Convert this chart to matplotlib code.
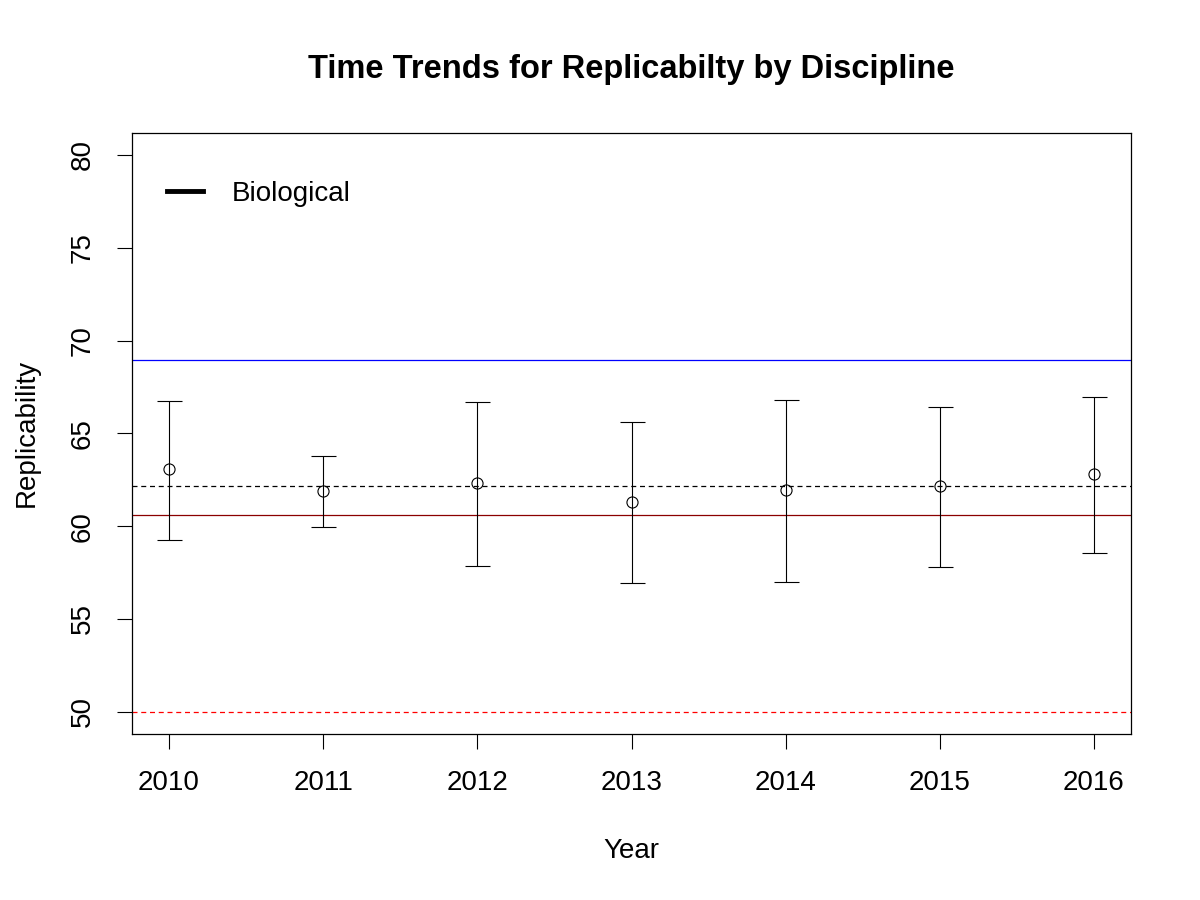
import matplotlib
matplotlib.use("Agg")
import matplotlib.pyplot as plt
import numpy as np

plt.rcParams['font.family'] = ['Liberation Sans', 'DejaVu Sans']

# Replicability estimates per year (Biological) with interval bounds
years = [2010, 2011, 2012, 2013, 2014, 2015, 2016]
estimate = [63.07, 61.92, 62.31, 61.29, 61.94, 62.15, 62.80]
upper = [66.75, 63.79, 66.70, 65.62, 66.80, 66.43, 66.96]
lower = [59.27, 59.98, 57.87, 56.92, 56.97, 57.81, 58.57]

# Reference lines
blue_ref = 68.96
mean_ref = 62.17
darkred_ref = 60.61
chance_ref = 50.0

years = np.array(years)
estimate = np.array(estimate)
yerr = np.vstack([estimate - np.array(lower), np.array(upper) - estimate])

fig = plt.figure(figsize=(12, 9), dpi=100)
ax = fig.add_axes([0.11, 0.1844, 0.8325, 0.6682])

ax.errorbar(years, estimate, yerr=yerr, fmt='o', color='black',
            markerfacecolor='none', markeredgecolor='black', markersize=8,
            markeredgewidth=0.8, elinewidth=0.8, capsize=9, capthick=0.8,
            zorder=3)

ax.axhline(blue_ref, color='blue', lw=0.9)
ax.axhline(mean_ref, color='black', lw=0.9, dashes=(4, 3))
ax.axhline(darkred_ref, color='#8b0000', lw=0.9)
ax.axhline(chance_ref, color='red', lw=0.9, dashes=(4, 3))

ax.set_xlim(2009.76, 2016.24)
ax.set_ylim(48.8, 81.2)
ax.set_xticks(years)
ax.set_yticks(np.arange(50, 81, 5))
ax.tick_params(axis='both', labelsize=20, length=11, width=0.8, pad=15)
for lab in ax.get_yticklabels():
    lab.set_rotation(90)
    lab.set_va('center')
for s in ax.spines.values():
    s.set_linewidth(0.9)

ax.set_title("Time Trends for Replicabilty by Discipline", fontsize=23.5,
             fontweight='bold', pad=39)
ax.set_xlabel("Year", fontsize=20, labelpad=30)
ax.set_ylabel("Replicability", fontsize=20, labelpad=22)

ax.plot([], [], color='black', lw=3.5, label='Biological')
ax.legend(loc='upper left', bbox_to_anchor=(0.035, 0.92), frameon=False,
          fontsize=20, handlelength=1.3, handletextpad=1.05,
          borderpad=0, borderaxespad=0)

fig.savefig("out.png", dpi=100)
